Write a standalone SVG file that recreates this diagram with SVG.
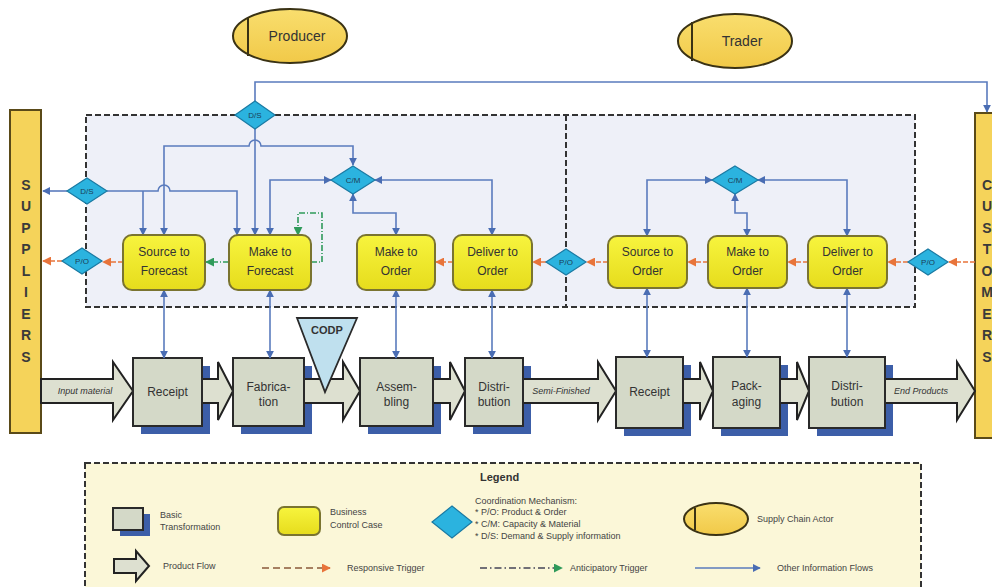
<svg xmlns="http://www.w3.org/2000/svg" width="992" height="587" viewBox="0 0 992 587">
  <defs>
    <style>
      .t { font-family: "Liberation Sans", Arial, sans-serif; fill: #333; }
      .node { font-size: 12px; text-anchor: middle; }
      .dia { font-size: 8px; text-anchor: middle; fill: #1b3f58; }
      .flowtxt { font-size: 9px; font-style: italic; text-anchor: middle; fill: #333; }
      .bar { font-size: 14px; font-weight: bold; text-anchor: middle; fill: #3a3a3a; }
      .leg { font-size: 9px; fill: #444; }
      .bcc { fill: url(#yellowGrad); stroke: #7a7430; stroke-width: 2; }
      .bt { fill: #d4d9c8; stroke: #2a2a2a; stroke-width: 2; }
      .shadow { fill: #3c5ea8; }
      .diamond { fill: #2bb3df; stroke: #1a7aa3; stroke-width: 1.2; }
      .pflow { fill: #dde0d0; stroke: #222; stroke-width: 2; stroke-linejoin: miter; }
      .actor { fill: url(#actorGrad); stroke: #3a3214; stroke-width: 2; }
      .info { fill: none; stroke: #5a7bbd; stroke-width: 1.6; }
      .resp { fill: none; stroke: #e8743b; stroke-width: 1.6; stroke-dasharray: 5 2; }
      .antic { fill: none; stroke: #2f9a5a; stroke-width: 1.6; stroke-dasharray: 6 2 1 2; }
      .box { fill: #eef0f8; stroke: #333; stroke-width: 2; stroke-dasharray: 6 3; }
      .divider { fill: none; stroke: #333; stroke-width: 2; stroke-dasharray: 6 3; }
    </style>
    <linearGradient id="yellowGrad" x1="0" y1="0" x2="0" y2="1">
      <stop offset="0" stop-color="#f7f43e"/>
      <stop offset="1" stop-color="#e6dc1c"/>
    </linearGradient>
    <linearGradient id="actorGrad" x1="0" y1="0" x2="0" y2="1">
      <stop offset="0" stop-color="#f9de6e"/>
      <stop offset="1" stop-color="#f1c948"/>
    </linearGradient>
    <marker id="aBlue" viewBox="0 0 10 10" refX="9" refY="5" markerWidth="8" markerHeight="8" markerUnits="userSpaceOnUse" orient="auto-start-reverse">
      <path d="M0,0 L10,5 L0,10 z" fill="#4a6db3"/>
    </marker>
    <marker id="aOrange" viewBox="0 0 10 10" refX="9" refY="5" markerWidth="9" markerHeight="9" markerUnits="userSpaceOnUse" orient="auto-start-reverse">
      <path d="M0,0 L10,5 L0,10 z" fill="#e8743b"/>
    </marker>
    <marker id="aGreen" viewBox="0 0 10 10" refX="9" refY="5" markerWidth="9" markerHeight="9" markerUnits="userSpaceOnUse" orient="auto-start-reverse">
      <path d="M0,0 L10,5 L0,10 z" fill="#2f9a5a"/>
    </marker>
  </defs>

  <rect x="0" y="0" width="992" height="587" fill="#ffffff"/>

  <!-- chain boundaries -->
  <rect class="box" x="86" y="115" width="829" height="192"/>
  <line class="divider" x1="566" y1="115" x2="566" y2="307"/>

  <!-- supply chain actors -->
  <g id="producer">
    <ellipse class="actor" cx="290" cy="36" rx="57" ry="27"/>
    <line x1="248" y1="17" x2="248" y2="56" stroke="#3a3214" stroke-width="2"/>
    <text class="t" x="297" y="41" font-size="14" text-anchor="middle">Producer</text>
  </g>
  <g id="trader">
    <ellipse class="actor" cx="735" cy="41" rx="57" ry="27"/>
    <line x1="692" y1="22" x2="692" y2="61" stroke="#3a3214" stroke-width="2"/>
    <text class="t" x="742" y="46" font-size="14" text-anchor="middle">Trader</text>
  </g>

  <!-- suppliers / customers -->
  <g id="suppliers">
    <rect x="10" y="110" width="31" height="323" fill="#f5d35a" stroke="#5a4a18" stroke-width="2"/>
    <text class="t bar" x="26" y="190">S</text>
    <text class="t bar" x="26" y="211">U</text>
    <text class="t bar" x="26" y="233">P</text>
    <text class="t bar" x="26" y="254">P</text>
    <text class="t bar" x="26" y="276">L</text>
    <text class="t bar" x="26" y="297">I</text>
    <text class="t bar" x="26" y="319">E</text>
    <text class="t bar" x="26" y="340">R</text>
    <text class="t bar" x="26" y="362">S</text>
  </g>
  <g id="customers">
    <rect x="975" y="113" width="30" height="325" fill="#f5d35a" stroke="#5a4a18" stroke-width="2"/>
    <text class="t bar" x="987" y="190">C</text>
    <text class="t bar" x="987" y="211">U</text>
    <text class="t bar" x="987" y="233">S</text>
    <text class="t bar" x="987" y="254">T</text>
    <text class="t bar" x="987" y="276">O</text>
    <text class="t bar" x="987" y="297">M</text>
    <text class="t bar" x="987" y="319">E</text>
    <text class="t bar" x="987" y="340">R</text>
    <text class="t bar" x="987" y="362">S</text>
  </g>

  <!-- shadows of basic transformations -->
  <g id="shadows">
    <rect class="shadow" x="141" y="366" width="69" height="68"/>
    <rect class="shadow" x="241" y="366" width="71" height="68"/>
    <rect class="shadow" x="368" y="366" width="73" height="68"/>
    <rect class="shadow" x="473" y="366" width="58" height="68"/>
    <rect class="shadow" x="624" y="365" width="67" height="71"/>
    <rect class="shadow" x="721" y="365" width="67" height="71"/>
    <rect class="shadow" x="817" y="365" width="76" height="71"/>
  </g>

  <!-- product flow arrows -->
  <g id="product-flow">
    <polygon class="pflow" points="41,379 113,379 113,362 133,391 113,420 113,403 41,403"/>
    <polygon class="pflow" points="200,379 218,379 218,362 233,391 218,420 218,403 200,403"/>
    <polygon class="pflow" points="302,379 343,379 343,362 360,391 343,420 343,403 302,403"/>
    <polygon class="pflow" points="431,379 450,379 450,362 465,391 450,420 450,403 431,403"/>
    <polygon class="pflow" points="521,379 598,379 598,362 616,391 598,420 598,403 521,403"/>
    <polygon class="pflow" points="681,379 700,379 700,362 713,391 700,420 700,403 681,403"/>
    <polygon class="pflow" points="778,379 797,379 797,362 809,391 797,420 797,403 778,403"/>
    <polygon class="pflow" points="883,379 957,379 957,362 975,391 957,420 957,403 883,403"/>
    <text class="t flowtxt" x="85" y="394">Input material</text>
    <text class="t flowtxt" x="561" y="394">Semi-Finished</text>
    <text class="t flowtxt" x="921" y="394">End Products</text>
  </g>

  <!-- basic transformations -->
  <g id="receipt-p">
    <rect class="bt" x="133" y="358" width="69" height="68"/>
    <text class="t node" x="167.5" y="396">Receipt</text>
  </g>
  <g id="fabrication">
    <rect class="bt" x="233" y="358" width="71" height="68"/>
    <text class="t node" x="268.5" y="391">Fabrica-</text>
    <text class="t node" x="268.5" y="406">tion</text>
  </g>
  <g id="assembling">
    <rect class="bt" x="360" y="358" width="73" height="68"/>
    <text class="t node" x="396.5" y="391">Assem-</text>
    <text class="t node" x="396.5" y="406">bling</text>
  </g>
  <g id="distribution-p">
    <rect class="bt" x="465" y="358" width="58" height="68"/>
    <text class="t node" x="494" y="391">Distri-</text>
    <text class="t node" x="494" y="406">bution</text>
  </g>
  <g id="receipt-t">
    <rect class="bt" x="616" y="357" width="67" height="71"/>
    <text class="t node" x="649.5" y="396">Receipt</text>
  </g>
  <g id="packaging">
    <rect class="bt" x="713" y="357" width="67" height="71"/>
    <text class="t node" x="746.5" y="390">Pack-</text>
    <text class="t node" x="746.5" y="406">aging</text>
  </g>
  <g id="distribution-t">
    <rect class="bt" x="809" y="357" width="76" height="71"/>
    <text class="t node" x="847" y="390">Distri-</text>
    <text class="t node" x="847" y="406">bution</text>
  </g>

  <!-- customer order decoupling point -->
  <g id="codp">
    <polygon points="297,318 357,318 325,392" fill="#bfe0ee" stroke="#2a2a2a" stroke-width="1.8"/>
    <text class="t" x="327" y="334" font-size="11" font-weight="bold" text-anchor="middle" fill="#1d4f63">CODP</text>
  </g>

  <!-- information flows and triggers -->
  <g id="connectors">
    <path class="info" d="M255,101 V82 H987 V112" marker-end="url(#aBlue)"/>
    <path class="info" d="M255,129 V235" marker-end="url(#aBlue)"/>
    <path class="info" d="M164,235 V146 H249 A6,6 0 0 1 261,146 H353 V165" marker-start="url(#aBlue)" marker-end="url(#aBlue)"/>
    <path class="info" d="M67,191 H43" marker-end="url(#aBlue)"/>
    <path class="info" d="M107,191 H158 A6,6 0 0 1 170,191 H237 V235" marker-end="url(#aBlue)"/>
    <path class="info" d="M143,191 V235" marker-end="url(#aBlue)"/>
    <path class="info" d="M270,235 V180 H331" marker-start="url(#aBlue)" marker-end="url(#aBlue)"/>
    <path class="info" d="M375,180 H492 V235" marker-start="url(#aBlue)" marker-end="url(#aBlue)"/>
    <path class="info" d="M353,194 V213 H396 V235" marker-start="url(#aBlue)" marker-end="url(#aBlue)"/>
    <path class="info" d="M647,236 V180 H712" marker-start="url(#aBlue)" marker-end="url(#aBlue)"/>
    <path class="info" d="M758,180 H847 V236" marker-start="url(#aBlue)" marker-end="url(#aBlue)"/>
    <path class="info" d="M735,194 V213 H747 V236" marker-start="url(#aBlue)" marker-end="url(#aBlue)"/>

    <path class="info" d="M164,290 V358" marker-start="url(#aBlue)" marker-end="url(#aBlue)"/>
    <path class="info" d="M270,290 V358" marker-start="url(#aBlue)" marker-end="url(#aBlue)"/>
    <path class="info" d="M396,290 V358" marker-start="url(#aBlue)" marker-end="url(#aBlue)"/>
    <path class="info" d="M492,290 V358" marker-start="url(#aBlue)" marker-end="url(#aBlue)"/>
    <path class="info" d="M647,288 V357" marker-start="url(#aBlue)" marker-end="url(#aBlue)"/>
    <path class="info" d="M747,288 V357" marker-start="url(#aBlue)" marker-end="url(#aBlue)"/>
    <path class="info" d="M847,288 V357" marker-start="url(#aBlue)" marker-end="url(#aBlue)"/>

    <path class="resp" d="M62,261 H43" marker-end="url(#aOrange)"/>
    <path class="resp" d="M123,262 H103" marker-end="url(#aOrange)"/>
    <path class="resp" d="M453,262 H436" marker-end="url(#aOrange)"/>
    <path class="resp" d="M546,262 H533" marker-end="url(#aOrange)"/>
    <path class="resp" d="M608,262 H587" marker-end="url(#aOrange)"/>
    <path class="resp" d="M708,262 H688" marker-end="url(#aOrange)"/>
    <path class="resp" d="M808,262 H788" marker-end="url(#aOrange)"/>
    <path class="resp" d="M908,262 H888" marker-end="url(#aOrange)"/>
    <path class="resp" d="M975,262 H949" marker-end="url(#aOrange)"/>

    <path class="antic" d="M229,262 H206" marker-end="url(#aGreen)"/>
    <path class="antic" d="M311,262 H322 V213 H298 V235" marker-end="url(#aGreen)"/>
  </g>

  <!-- coordination mechanisms -->
  <g id="ds-top">
    <polygon class="diamond" points="255,101 275,115 255,129 235,115"/>
    <text class="t dia" x="255" y="118">D/S</text>
  </g>
  <g id="ds-left">
    <polygon class="diamond" points="87,178 107,191 87,204 67,191"/>
    <text class="t dia" x="87" y="194">D/S</text>
  </g>
  <g id="po-left">
    <polygon class="diamond" points="82,248 102,261 82,274 62,261"/>
    <text class="t dia" x="82" y="264">P/O</text>
  </g>
  <g id="po-mid">
    <polygon class="diamond" points="566,249 586,262 566,275 546,262"/>
    <text class="t dia" x="566" y="265">P/O</text>
  </g>
  <g id="po-right">
    <polygon class="diamond" points="928,249 948,262 928,275 908,262"/>
    <text class="t dia" x="928" y="265">P/O</text>
  </g>
  <g id="cm-producer">
    <polygon class="diamond" points="353,166 375,180 353,194 331,180"/>
    <text class="t dia" x="353" y="183">C/M</text>
  </g>
  <g id="cm-trader">
    <polygon class="diamond" points="735,166 758,180 735,194 712,180"/>
    <text class="t dia" x="735" y="183">C/M</text>
  </g>

  <!-- business control cases -->
  <g id="source-to-forecast">
    <rect class="bcc" x="123" y="235" width="82" height="55" rx="9"/>
    <text class="t node" x="164" y="256">Source to</text>
    <text class="t node" x="164" y="275">Forecast</text>
  </g>
  <g id="make-to-forecast">
    <rect class="bcc" x="229" y="235" width="82" height="55" rx="9"/>
    <text class="t node" x="270" y="256">Make to</text>
    <text class="t node" x="270" y="275">Forecast</text>
  </g>
  <g id="make-to-order-p">
    <rect class="bcc" x="357" y="235" width="78" height="55" rx="9"/>
    <text class="t node" x="396" y="256">Make to</text>
    <text class="t node" x="396" y="275">Order</text>
  </g>
  <g id="deliver-to-order-p">
    <rect class="bcc" x="453" y="235" width="79" height="55" rx="9"/>
    <text class="t node" x="492.5" y="256">Deliver to</text>
    <text class="t node" x="492.5" y="275">Order</text>
  </g>
  <g id="source-to-order-t">
    <rect class="bcc" x="608" y="236" width="79" height="52" rx="9"/>
    <text class="t node" x="647.5" y="256">Source to</text>
    <text class="t node" x="647.5" y="275">Order</text>
  </g>
  <g id="make-to-order-t">
    <rect class="bcc" x="708" y="236" width="79" height="52" rx="9"/>
    <text class="t node" x="747.5" y="256">Make to</text>
    <text class="t node" x="747.5" y="275">Order</text>
  </g>
  <g id="deliver-to-order-t">
    <rect class="bcc" x="808" y="236" width="79" height="52" rx="9"/>
    <text class="t node" x="847.5" y="256">Deliver to</text>
    <text class="t node" x="847.5" y="275">Order</text>
  </g>

  <!-- legend -->
  <g id="legend">
    <rect x="85" y="463" width="836" height="130" fill="#fbf7d8" stroke="#333" stroke-width="2" stroke-dasharray="6 3"/>
    <text class="t" x="480" y="481" font-size="11" font-weight="bold" fill="#333">Legend</text>

    <rect x="120" y="514" width="30" height="22" fill="#3c5ea8"/>
    <rect x="113" y="508" width="30" height="22" fill="#d4d9c8" stroke="#2a2a2a" stroke-width="2"/>
    <text class="t leg" x="160" y="518">Basic</text>
    <text class="t leg" x="160" y="530">Transformation</text>

    <rect x="278" y="507" width="42" height="28" rx="6" class="bcc"/>
    <text class="t leg" x="330" y="515">Business</text>
    <text class="t leg" x="330" y="528">Control Case</text>

    <polygon class="diamond" points="452,506 472,522 452,538 432,522"/>
    <text class="t leg" x="475" y="504">Coordination Mechanism:</text>
    <text class="t leg" x="475" y="515">* P/O: Product &amp; Order</text>
    <text class="t leg" x="475" y="527">* C/M: Capacity &amp; Material</text>
    <text class="t leg" x="475" y="539">* D/S: Demand &amp; Supply information</text>

    <ellipse class="actor" cx="716" cy="519" rx="32" ry="16"/>
    <line x1="695" y1="508" x2="695" y2="530" stroke="#3a3214" stroke-width="2"/>
    <text class="t leg" x="757" y="522">Supply Chain Actor</text>

    <polygon class="pflow" points="114,559 136,559 136,551 149,566 136,581 136,573 114,573"/>
    <text class="t leg" x="163" y="569">Product Flow</text>

    <path d="M262,568 H330" fill="none" stroke="#8a5a3a" stroke-width="1.6" stroke-dasharray="7 4" marker-end="url(#aOrange)"/>
    <text class="t leg" x="347" y="571">Responsive Trigger</text>

    <path d="M480,568 H562" fill="none" stroke="#445" stroke-width="1.6" stroke-dasharray="7 3 1.5 3" marker-end="url(#aGreen)"/>
    <text class="t leg" x="570" y="571">Anticipatory Trigger</text>

    <path d="M695,568 H760" fill="none" stroke="#5a7bbd" stroke-width="1.6" marker-end="url(#aBlue)"/>
    <text class="t leg" x="777" y="571">Other Information Flows</text>
  </g>
</svg>
